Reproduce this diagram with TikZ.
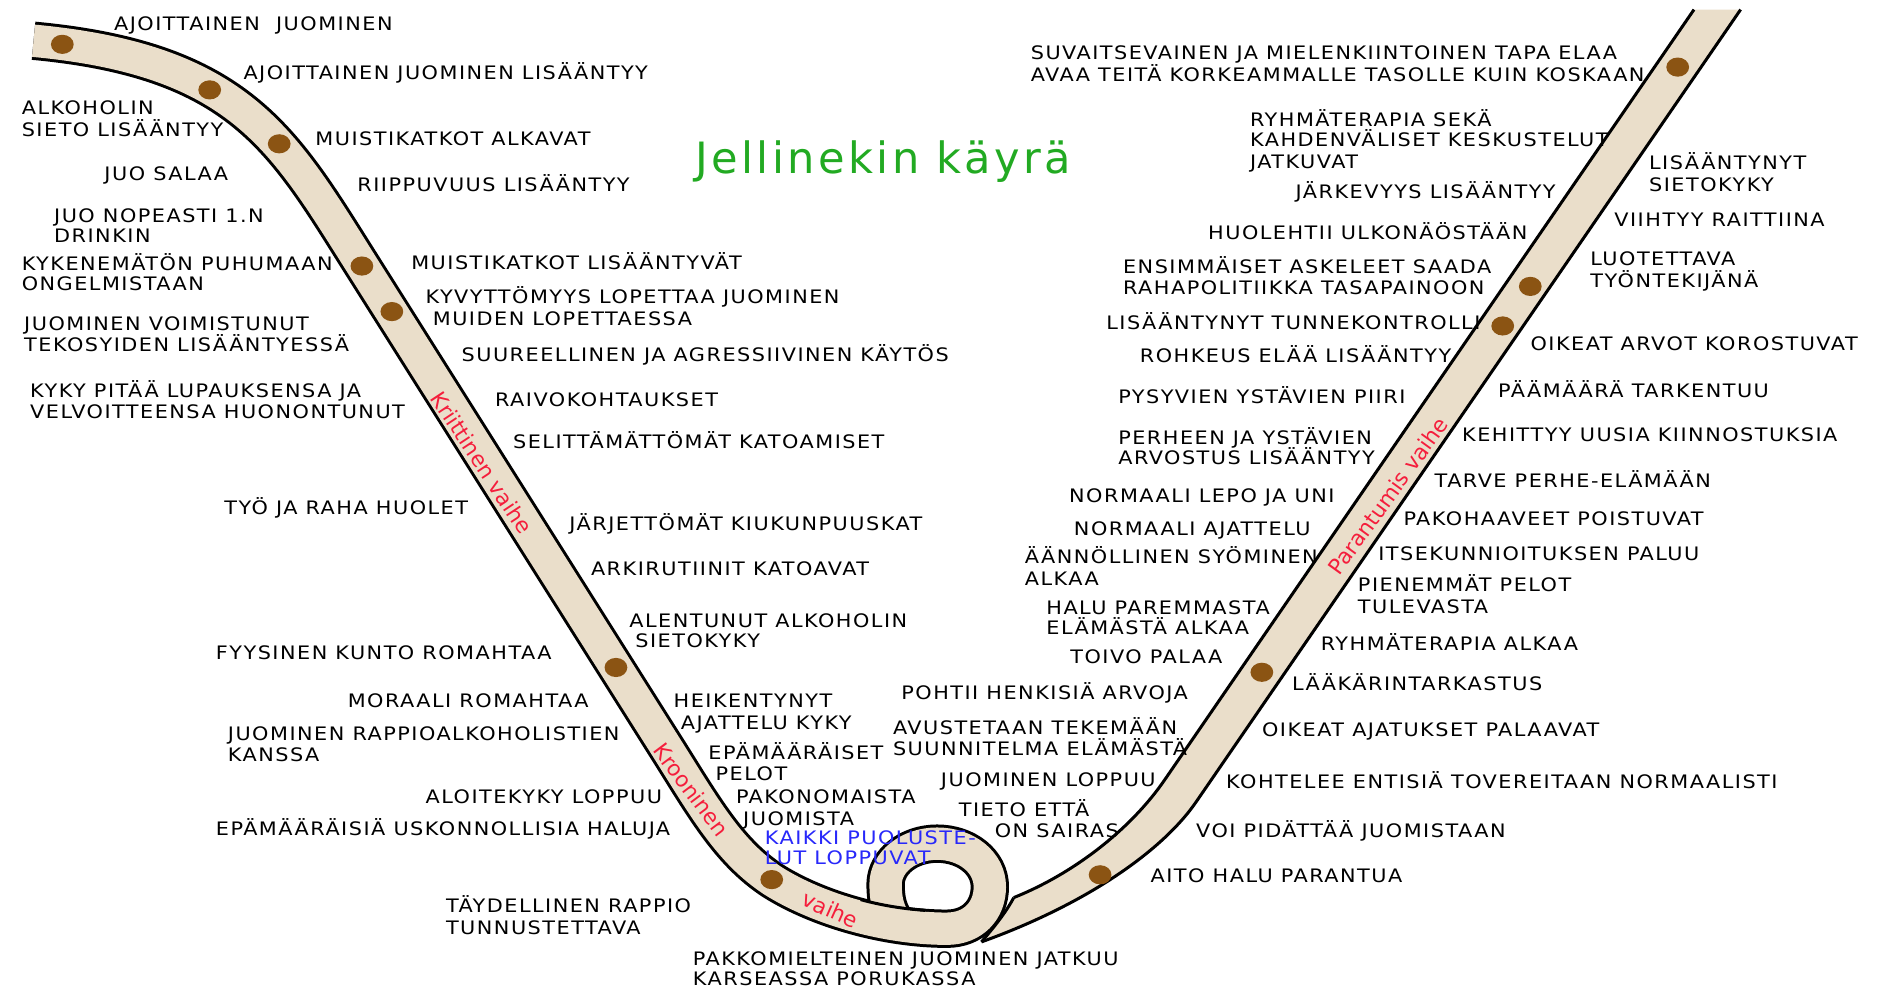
\documentclass[tikz,border=0pt]{standalone}
\usepackage{fontspec}
\usetikzlibrary{shapes.geometric}
\setmainfont{DejaVu Sans}
\newfontfamily\labfont[FakeStretch=1.12,LetterSpace=8]{DejaVu Sans}
\newfontfamily\titfont[LetterSpace=8]{DejaVu Sans}
\newfontfamily\phfont{DejaVu Sans}
\definecolor{bandfill}{RGB}{234,222,202}
\definecolor{dotbrown}{RGB}{139,84,19}
\definecolor{titlegreen}{RGB}{34,170,34}
\definecolor{phasered}{RGB}{245,30,60}
\definecolor{noteblue}{RGB}{40,40,250}
\newcommand{\lb}[4]{\node[lab] (#1) at (#2,#3) {#4};}
\newcommand{\lbblue}[4]{\node[lab,text=noteblue] (#1) at (#2,#3) {#4};}
\begin{document}
\begin{tikzpicture}[x=1pt,y=-1pt,
  lab/.style={anchor=base west,inner sep=0pt,yshift=-5.6pt,font={\labfont\fontsize{15.5}{17}\selectfont}},
  phase/.style={inner sep=0pt,text=phasered,font={\phfont\fontsize{18}{20}\selectfont}},
  dotnode/.style={ellipse,fill=dotbrown,draw=none,inner sep=0pt,minimum width=19pt,minimum height=16pt},
  bandpath/.style={insert path={(28,34) .. controls (200,50) and (236,116.5) .. (300,218) -- (560,630) .. controls (590,678) and (610,712) .. (645,735) .. controls (683,759) and (740,775) .. (790,775) .. controls (812,775) and (826,760) .. (826,740) .. controls (826,719.5) and (806.3,704) .. (782,704) .. controls (758.3,704) and (739,719.2) .. (739,738) .. controls (739,750) and (741,758) .. (745,765)}},
  edge/.style={draw=black,line width=2.5pt,line join=round}
]
\useasboundingbox (0,0) rectangle (1568,825);
\fill[white] (0,0) rectangle (1568,825);
% left band with curl
\draw[black,line width=32pt,line join=round,bandpath];
\draw[bandfill,line width=27pt,line join=round,bandpath];
% upper edge of the band visible across the end of the curl
\begin{scope}
\clip (718,735) rectangle (772,772);
\draw[black,line width=2.5pt] (652.8,722.5) .. controls (690.8,746.5) and (740,760.25) .. (790,760.25);
\end{scope}
% right band
\fill[bandfill] (819,786) .. controls (830,773) and (839,762) .. (846,749)
  .. controls (896,729) and (943.5,692.1) .. (971.8,650.9) -- (1413.6,8) -- (1452.5,8)
  -- (998.2,669.1) .. controls (969.9,710.3) and (906,754.7) .. (819,786) -- cycle;
\draw[edge] (846,749) .. controls (896,729) and (943.5,692.1) .. (971.8,650.9) -- (1413.6,8);
\draw[edge] (819,786) .. controls (906,754.7) and (969.9,710.3) .. (998.2,669.1) -- (1452.5,8);
\draw[edge] (819,786) .. controls (830,773) and (839,762) .. (846,749);
% dots
\node[dotnode] (d1) at (52,37) {};
\node[dotnode] (d2) at (175,75) {};
\node[dotnode] (d3) at (233,120) {};
\node[dotnode] (d4) at (302,222) {};
\node[dotnode] (d5) at (327,260) {};
\node[dotnode] (d6) at (514,557) {};
\node[dotnode] (d7) at (644,734) {};
\node[dotnode] (d8) at (918,730) {};
\node[dotnode] (d9) at (1053,561) {};
\node[dotnode] (d10) at (1254,272) {};
\node[dotnode] (d11) at (1277,239) {};
\node[dotnode] (d12) at (1400,56) {};
% title
\node[anchor=base west,inner sep=0pt,text=titlegreen,font={\titfont\fontsize{36}{40}\selectfont}] (title) at (580,144.5) {Jellinekin käyrä};
% phase labels
\node[phase,rotate=-56.5] (p1) at (402,386) {Kriittinen vaihe};
\node[phase,rotate=-53] (p2) at (577,659) {Krooninen};
\node[phase,rotate=-24] (p3) at (693,759) {vaihe};
\node[phase,rotate=54] (p4) at (1158,414) {Parantumis vaihe};
% left labels
\lb{a1}{95}{20}{AJOITTAINEN\ \ JUOMINEN}
\lb{a2}{203}{61}{AJOITTAINEN JUOMINEN LISÄÄNTYY}
\lb{a3}{18}{90}{ALKOHOLIN}
\lb{a3b}{18}{108}{SIETO LISÄÄNTYY}
\lb{a4}{263}{116}{MUISTIKATKOT ALKAVAT}
\lb{a5}{87}{145}{JUO SALAA}
\lb{a6}{298}{154}{RIIPPUVUUS LISÄÄNTYY}
\lb{a7}{45}{180}{JUO NOPEASTI 1.N}
\lb{a7b}{45}{197}{DRINKIN}
\lb{a8}{18}{220}{KYKENEMÄTÖN PUHUMAAN}
\lb{a8b}{18}{237}{ONGELMISTAAN}
\lb{a9}{343}{219}{MUISTIKATKOT LISÄÄNTYVÄT}
\lb{a10}{355}{248}{KYVYTTÖMYYS LOPETTAA JUOMINEN}
\lb{a10b}{361}{266}{MUIDEN LOPETTAESSA}
\lb{a11}{20}{270}{JUOMINEN VOIMISTUNUT}
\lb{a11b}{20}{288}{TEKOSYIDEN LISÄÄNTYESSÄ}
\lb{a12}{385}{296}{SUUREELLINEN JA AGRESSIIVINEN KÄYTÖS}
\lb{a13}{25}{326}{KYKY PITÄÄ LUPAUKSENSA JA}
\lb{a13b}{25}{344}{VELVOITTEENSA HUONONTUNUT}
\lb{a14}{413}{334}{RAIVOKOHTAUKSET}
\lb{a15}{428}{369}{SELITTÄMÄTTÖMÄT KATOAMISET}
\lb{a16}{187}{424}{TYÖ JA RAHA HUOLET}
\lb{a17}{475}{437}{JÄRJETTÖMÄT KIUKUNPUUSKAT}
\lb{a18}{493}{475}{ARKIRUTIINIT KATOAVAT}
\lb{a19}{525}{518}{ALENTUNUT ALKOHOLIN}
\lb{a19b}{530}{535}{SIETOKYKY}
\lb{a20}{180}{545}{FYYSINEN KUNTO ROMAHTAA}
\lb{a21}{290}{585}{MORAALI ROMAHTAA}
\lb{a22}{562}{585}{HEIKENTYNYT}
\lb{a22b}{568}{603}{AJATTELU KYKY}
\lb{a23}{190}{612}{JUOMINEN RAPPIOALKOHOLISTIEN}
\lb{a23b}{190}{630}{KANSSA}
\lb{a24}{591}{628}{EPÄMÄÄRÄISET}
\lb{a24b}{597}{646}{PELOT}
\lb{a25}{355}{665}{ALOITEKYKY LOPPUU}
\lb{a26}{614}{665}{PAKONOMAISTA}
\lb{a26b}{620}{683}{JUOMISTA}
\lb{a27}{180}{692}{EPÄMÄÄRÄISIÄ USKONNOLLISIA HALUJA}
\lbblue{a28}{638}{699}{KAIKKI PUOLUSTE-}
\lbblue{a28b}{638}{716}{LUT LOPPUVAT}
\lb{a29}{372}{756}{TÄYDELLINEN RAPPIO}
\lb{a29b}{372}{774}{TUNNUSTETTAVA}
\lb{a30}{578}{800}{PAKKOMIELTEINEN JUOMINEN JATKUU}
\lb{a30b}{578}{817}{KARSEASSA PORUKASSA}
% right labels
\lb{b1}{860}{44}{SUVAITSEVAINEN JA MIELENKIINTOINEN TAPA ELAA}
\lb{b1b}{860}{62}{AVAA TEITÄ KORKEAMMALLE TASOLLE KUIN KOSKAAN}
\lb{b2}{1043}{100}{RYHMÄTERAPIA SEKÄ}
\lb{b2b}{1043}{117}{KAHDENVÄLISET KESKUSTELUT}
\lb{b2c}{1043}{135}{JATKUVAT}
\lb{b3}{1376}{136}{LISÄÄNTYNYT}
\lb{b3b}{1376}{154}{SIETOKYKY}
\lb{b4}{1081}{160}{JÄRKEVYYS LISÄÄNTYY}
\lb{b5}{1347}{183}{VIIHTYY RAITTIINA}
\lb{b6}{1008}{194}{HUOLEHTII ULKONÄÖSTÄÄN}
\lb{b7}{1327}{216}{LUOTETTAVA}
\lb{b7b}{1327}{234}{TYÖNTEKIJÄNÄ}
\lb{b8}{937}{223}{ENSIMMÄISET ASKELEET SAADA}
\lb{b8b}{937}{240}{RAHAPOLITIIKKA TASAPAINOON}
\lb{b9}{923}{269}{LISÄÄNTYNYT TUNNEKONTROLLI}
\lb{b10}{1277}{287}{OIKEAT ARVOT KOROSTUVAT}
\lb{b11}{951}{297}{ROHKEUS ELÄÄ LISÄÄNTYY}
\lb{b12}{1250}{326}{PÄÄMÄÄRÄ TARKENTUU}
\lb{b13}{933}{331}{PYSYVIEN YSTÄVIEN PIIRI}
\lb{b14}{933}{365}{PERHEEN JA YSTÄVIEN}
\lb{b14b}{933}{382}{ARVOSTUS LISÄÄNTYY}
\lb{b15}{1220}{363}{KEHITTYY UUSIA KIINNOSTUKSIA}
\lb{b16}{1197}{401}{TARVE PERHE-ELÄMÄÄN}
\lb{b17}{892}{414}{NORMAALI LEPO JA UNI}
\lb{b18}{1171}{433}{PAKOHAAVEET POISTUVAT}
\lb{b19}{896}{441}{NORMAALI AJATTELU}
\lb{b20}{1150}{462}{ITSEKUNNIOITUKSEN PALUU}
\lb{b21}{855}{465}{ÄÄNNÖLLINEN SYÖMINEN}
\lb{b21b}{855}{483}{ALKAA}
\lb{b22}{1133}{488}{PIENEMMÄT PELOT}
\lb{b22b}{1133}{506}{TULEVASTA}
\lb{b23}{873}{507}{HALU PAREMMASTA}
\lb{b23b}{873}{524}{ELÄMÄSTÄ ALKAA}
\lb{b24}{1102}{537}{RYHMÄTERAPIA ALKAA}
\lb{b25}{893}{548}{TOIVO PALAA}
\lb{b26}{1078}{571}{LÄÄKÄRINTARKASTUS}
\lb{b27}{752}{578}{POHTII HENKISIÄ ARVOJA}
\lb{b28}{1053}{609}{OIKEAT AJATUKSET PALAAVAT}
\lb{b29}{745}{607}{AVUSTETAAN TEKEMÄÄN}
\lb{b29b}{745}{625}{SUUNNITELMA ELÄMÄSTÄ}
\lb{b30}{785}{651}{JUOMINEN LOPPUU}
\lb{b31}{1023}{652}{KOHTELEE ENTISIÄ TOVEREITAAN NORMAALISTI}
\lb{b32}{800}{676}{TIETO ETTÄ}
\lb{b32b}{830}{693}{ON SAIRAS}
\lb{b33}{998}{693}{VOI PIDÄTTÄÄ JUOMISTAAN}
\lb{b34}{960}{731}{AITO HALU PARANTUA}
\end{tikzpicture}
\end{document}
